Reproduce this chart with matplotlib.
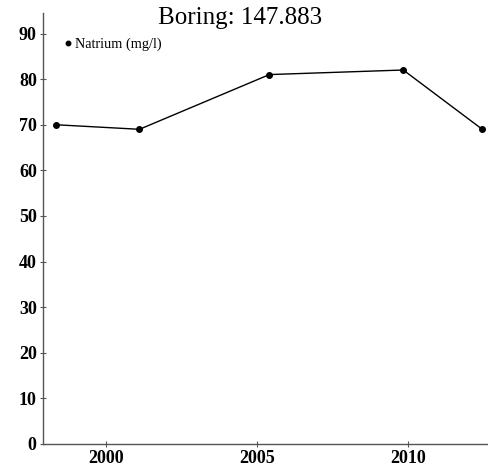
import numpy as np
import matplotlib.pyplot as plt

years = [1998.32, 2001.1, 2005.41, 2009.85, 2012.47]
natrium = [70, 69, 81, 82, 69]
xticks = [2000, 2005, 2010]
yticks = np.arange(0, 100, 10)

plt.rcParams['font.family'] = ['Liberation Serif', 'DejaVu Serif']

fig = plt.figure(figsize=(4.88, 4.68), dpi=100)
ax = fig.add_axes([43/488, 24/468, 445/488, 431/468])

ax.plot(years, natrium, color='black', linewidth=1.0, marker='o', markersize=4,
        label='Natrium (mg/l)')

ax.set_xlim(1997.9, 2012.66)
ax.set_ylim(0, 94.5)
ax.set_xticks(xticks)
ax.set_yticks(yticks)
for lab in ax.get_xticklabels() + ax.get_yticklabels():
    lab.set_fontweight('bold')
ax.tick_params(axis='both', direction='inout', length=5, width=0.8, color='#555555', labelsize=13)
ax.tick_params(axis='y', pad=2)
ax.tick_params(axis='x', pad=2)

for side in ['top', 'right']:
    ax.spines[side].set_visible(False)
for side in ['left', 'bottom']:
    ax.spines[side].set_color('#555555')
    ax.spines[side].set_linewidth(1.0)

ax.legend(loc='center left', bbox_to_anchor=(68/488, 1 - 44/468), bbox_transform=fig.transFigure,
          frameon=False, fontsize=10.3, handlelength=0, handletextpad=0.5, markerscale=0.8,
          borderpad=0, borderaxespad=0)

fig.text(240/488, 1 - 18/468, 'Boring: 147.883', ha='center', va='center', fontsize=18)

fig.savefig('out.png', dpi=100)
